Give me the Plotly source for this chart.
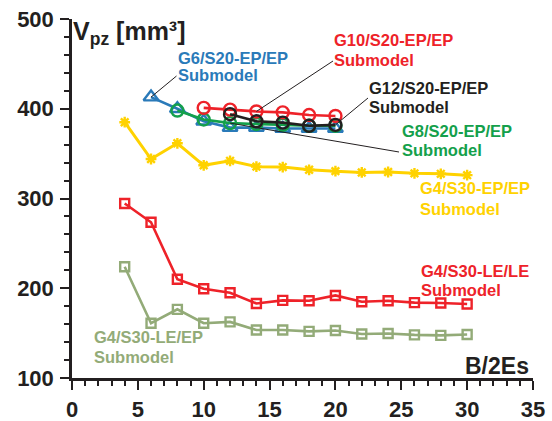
import plotly.graph_objects as go

# ---------------- data ----------------
x_g6 = [6, 8, 10, 12, 14, 16, 18, 20]
y_g6 = [413, 400, 386, 379, 379, 378, 378, 378]

x_g8 = [8, 10, 12, 14, 16, 18, 20]
y_g8 = [398, 388, 384, 383, 382, 381, 381]

x_g10 = [10, 12, 14, 16, 18, 20]
y_g10 = [401, 399, 397, 396, 393, 392]

x_g12 = [12, 14, 16, 18, 20]
y_g12 = [394, 386, 384.5, 381, 382]

x_s30 = [4, 6, 8, 10, 12, 14, 16, 18, 20, 22, 24, 26, 28, 30]
y_g4_epep = [385, 344, 361.5, 337, 342, 335.5, 335, 332, 330.5, 329, 329.5, 328, 327.5, 326]
y_g4_lele = [294.5, 273.5, 210, 199.5, 195, 183, 186.5, 186, 192, 185, 186, 184, 183.5, 182.5]
y_g4_leep = [224, 161, 176.5, 161, 162.5, 153.5, 153.5, 152, 153, 149, 149.5, 148, 147.5, 148.5]

x_ticks = [0, 5, 10, 15, 20, 25, 30, 35]
y_ticks = [100, 200, 300, 400, 500]

# ---------------- styling ----------------
W, H = 552, 421
ML, MR, MT, MB = 72, 19, 19, 43
XR = (0, 35)
YR = (100, 500)
PW = W - ML - MR
PH = H - MT - MB

def px_x(px):
    return XR[0] + (px - ML) / PW * (XR[1] - XR[0])

def px_y(py):
    return YR[1] - (py - MT) / PH * (YR[1] - YR[0])

def paper_x(px):
    return (px - ML) / PW

def paper_y(py):
    return 1 - (py - MT) / PH

C_BLUE = "#2a7ab9"
C_GREEN = "#14a04b"
C_RED = "#ee2229"
C_BLACK = "#231f20"
C_YELLOW = "#ffd200"
C_OLIVE = "#93ab78"
FONT = "Liberation Sans"

fig = go.Figure()

def add_series(x, y, color, symbol, size, lw=2.6, mlw=2.4):
    fig.add_trace(go.Scatter(
        x=x, y=y, mode="lines+markers",
        line=dict(color=color, width=lw),
        marker=dict(symbol=symbol, size=size, color=color,
                    line=dict(width=mlw, color=color)),
        showlegend=False, hoverinfo="skip", cliponaxis=False))

add_series(x_s30, y_g4_epep, C_YELLOW, "asterisk-open", 9, lw=3)
add_series(x_s30, y_g4_leep, C_OLIVE, "square-open", 9)
add_series(x_s30, y_g4_lele, C_RED, "square-open", 9)
add_series(x_g6, y_g6, C_BLUE, "triangle-up-open", 13)
add_series(x_g8, y_g8, C_GREEN, "circle-open", 12)
add_series(x_g10, y_g10, C_RED, "circle-open", 12)
add_series(x_g12, y_g12, C_BLACK, "circle-open", 12)

# leader lines (from a data point to the label)
leaders = [
    (x_g6[0], y_g6[0], 176.5, 76),
    (x_g10[2], y_g10[2], 333, 61),
    (x_g12[-1], y_g12[-1], 368, 98),
    (x_g8[2], y_g8[2], 399, 152),
]
for (dx, dy, tx, ty) in leaders:
    fig.add_shape(type="line", xref="x", yref="y",
                  x0=dx, y0=dy, x1=px_x(tx), y1=px_y(ty),
                  line=dict(color=C_BLACK, width=1))

labels = [
    ("G6/S20-EP/EP", "Submodel", C_BLUE, 176, 57.5, 75),
    ("G10/S20-EP/EP", "Submodel", C_RED, 332, 40, 60),
    ("G12/S20-EP/EP", "Submodel", C_BLACK, 367, 88.5, 107),
    ("G8/S20-EP/EP", "Submodel", C_GREEN, 400, 131, 150),
    ("G4/S30-EP/EP", "Submodel", C_YELLOW, 418, 188, 209),
    ("G4/S30-LE/LE", "Submodel", C_RED, 419, 271, 290),
    ("G4/S30-LE/EP", "Submodel", C_OLIVE, 92, 337, 356.5),
]
for (l1, l2, col, px, py1, py2) in labels:
    for txt, py in ((l1, py1), (l2, py2)):
        fig.add_annotation(x=paper_x(px), y=paper_y(py), xref="paper", yref="paper",
                           text=txt, showarrow=False, xanchor="left", yanchor="middle",
                           font=dict(family=FONT, size=16.5, color=col, weight="bold"))

# axis titles
fig.add_annotation(x=paper_x(71), y=paper_y(33), xref="paper", yref="paper",
                   text="V<sub>pz</sub> [mm³]", showarrow=False,
                   xanchor="left", yanchor="middle",
                   font=dict(family=FONT, size=25, color=C_BLACK, weight="bold"))
fig.add_annotation(x=paper_x(531), y=paper_y(366), xref="paper", yref="paper",
                   text="B/2Es", showarrow=False,
                   xanchor="right", yanchor="middle",
                   font=dict(family=FONT, size=23, color=C_BLACK, weight="bold"))

axis_common = dict(
    showgrid=False, zeroline=False, showline=True, linecolor=C_BLACK, linewidth=2.5,
    ticks="outside", ticklen=9, tickwidth=2.2, tickcolor=C_BLACK, automargin=False,
    tickfont=dict(family=FONT, size=22, color=C_BLACK, weight="bold"),
)
fig.update_xaxes(range=list(XR), tickvals=x_ticks, ticktext=[str(v) for v in x_ticks],
                 ticklabelstandoff=1,
                 minor=dict(dtick=1, ticks="outside", ticklen=5, tickwidth=2, tickcolor=C_BLACK),
                 **axis_common)
fig.update_yaxes(range=list(YR), tickvals=y_ticks, ticktext=[str(v) for v in y_ticks],
                 ticklabelstandoff=2,
                 minor=dict(dtick=20, tick0=100, ticks="outside", ticklen=5, tickwidth=2, tickcolor=C_BLACK),
                 **axis_common)

fig.update_layout(width=W, height=H, margin=dict(l=ML, r=MR, t=MT, b=MB, autoexpand=False),
                  plot_bgcolor="white", paper_bgcolor="white")

fig.write_html("out.html")
